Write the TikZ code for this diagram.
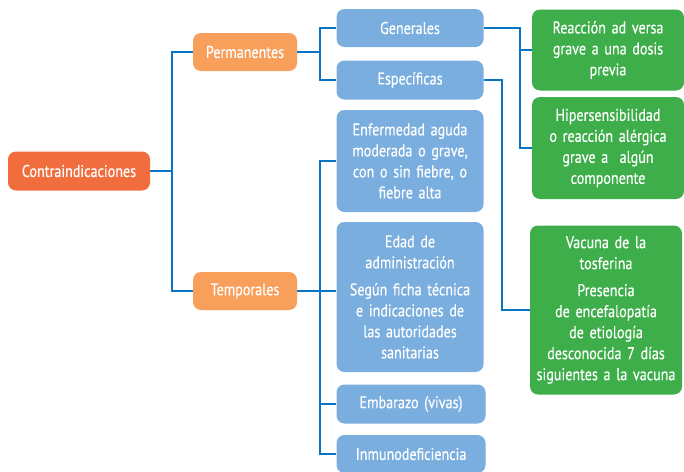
\documentclass[tikz,border=0pt]{standalone}
\usepackage{fontspec}
\setmainfont{PT Sans}[FakeStretch=0.83, FakeBold=0.4]
\definecolor{rootc}{HTML}{F26D3D}
\definecolor{midc}{HTML}{F89F5B}
\definecolor{bluec}{HTML}{7AAEDE}
\definecolor{greenc}{HTML}{3DAE4A}
\definecolor{linec}{HTML}{0A74C4}
\newcommand{\boxfont}{\fontsize{17}{21}\selectfont}
\begin{document}
\begin{tikzpicture}[x = 1pt, y = -1pt]
      \tikzstyle{every node} = [inner sep = 2pt, text = white, align = center,
        rounded corners = 8pt, font = \boxfont];
      \tikzstyle{rootbox} = [fill = rootc, minimum width = 142pt, minimum height = 39pt];
      \tikzstyle{midbox} = [fill = midc, minimum width = 104pt, minimum height = 38pt];
      \tikzstyle{bluebox} = [fill = bluec, minimum width = 147pt, text width = 142pt];
      \tikzstyle{greenbox} = [fill = greenc, minimum width = 151pt, text width = 148pt];
      \tikzstyle{link} = [draw = linec, line width = 1.6pt];
      \useasboundingbox (0,0) rectangle (684,471);
      % first and second level
      \node(root) [rootbox] at (79, 171) {Contraindicaciones};
      \node(perm) [midbox] at (245, 52) {Permanentes};
      \node(temp) [midbox] at (245, 291) {Temporales};
      % third level
      \node(gen) [bluebox, minimum height = 38pt] at (410, 28) {Generales};
      \node(esp) [bluebox, minimum height = 39pt] at (410, 80) {Específicas};
      \node(enf) [bluebox, minimum height = 102pt] at (410, 161)
        {Enfermedad aguda\\moderada o grave,\\con o sin fiebre, o\\fiebre alta};
      \node(edad) [bluebox, minimum height = 150pt] at (410, 297)
        {Edad de\\administración\\[6pt]Según ficha técnica\\e indicaciones de\\las autoridades\\sanitarias};
      \node(emb) [bluebox, minimum width = 149pt, minimum height = 39pt] at (411, 404) {Embarazo (vivas)};
      \node(inm) [bluebox, minimum width = 149pt, minimum height = 38pt] at (411, 454) {Inmunodeficiencia};
      % fourth level
      \node(ga) [greenbox, minimum height = 81pt] at (608, 50)
        {Reacción ad versa\\grave a una dosis\\previa};
      \node(gb) [greenbox, minimum height = 102pt] at (608, 148)
        {Hipersensibilidad\\o reacción alérgica\\grave a~~algún\\componente};
      \node(gc) [greenbox, minimum height = 169pt] at (606, 310)
        {Vacuna de la\\tosferina\\[6pt]Presencia\\de encefalopatía\\de etiología\\desconocida 7 días\\siguientes a la vacuna};
      % junctions
      \coordinate(jr) at (172, 171);
      \coordinate(jp) at (320, 52);
      \coordinate(jt) at (320, 291);
      \coordinate(jg) at (520, 28);
      \coordinate(je) at (502, 80);
      \path[link]
      (root) -- (jr) |- (perm)
      (jr) |- (temp)
      (perm) -- (jp) |- (gen)
      (jp) |- (esp)
      (temp) -- (jt) |- (enf)
      (jt) -- (edad.west |- jt)
      (jt) |- (emb)
      (jt) |- (inm)
      (gen) -- (jg) |- (ga)
      (jg) |- (gb)
      (esp) -- (je) |- (gc);
    \end{tikzpicture}
\end{document}
